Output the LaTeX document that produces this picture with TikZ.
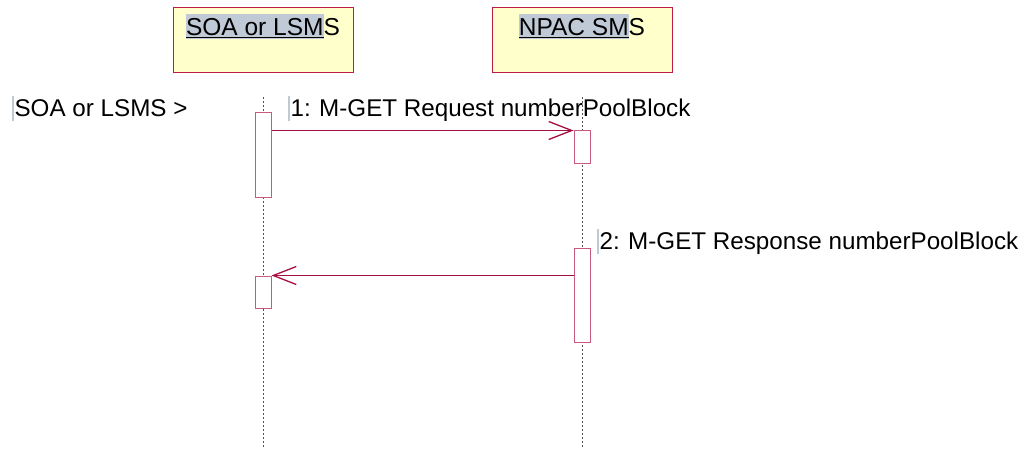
\documentclass[tikz,border=0pt]{standalone}
\usepackage{fontspec}
\setmainfont{Liberation Sans}
\usetikzlibrary{arrows.meta}
\definecolor{boxfill}{RGB}{255,255,204}
\definecolor{boxline}{RGB}{190,30,70}
\definecolor{msgline}{RGB}{165,15,65}
\definecolor{actline}{RGB}{200,90,130}
\definecolor{hlcol}{RGB}{192,202,214}
\definecolor{lifecol}{RGB}{80,80,80}
\newcommand{\curbar}{\textcolor{hlcol}{\rule[-4pt]{1.4pt}{25pt}}\hspace{1pt}}
\newcommand{\hltext}[1]{{\setlength{\fboxsep}{0pt}\colorbox{hlcol}{\rule[-3pt]{0pt}{25pt}\underline{#1}}}}
\tikzset{
  headbox/.style={draw=boxline, fill=boxfill, line width=1pt, minimum width=180pt, minimum height=65pt, inner sep=0pt},
  headtext/.style={anchor=base, inner sep=0pt, font=\fontsize{24.5}{28}\selectfont},
  actbox/.style={draw=actline, fill=white, line width=1pt, minimum width=16pt, inner sep=0pt},
  lifeline/.style={draw=lifecol, line width=0.8pt, dash pattern=on 2pt off 2pt},
  msg/.style={draw=msgline, line width=1.3pt, -{Straight Barb[length=23pt,width=18pt,line width=1.3pt]}},
  lbl/.style={anchor=base west, inner sep=0pt}
}
\begin{document}
\begin{tikzpicture}[x=1pt,y=-1pt,font=\fontsize{24.2}{28}\selectfont]
\useasboundingbox (0,0) rectangle (1023,449);
% header boxes
\node[headbox] (soa) at (263,40.5) {};
\node[headbox] (npac) at (582,40.5) {};
\node[headtext] (soat) at (263,36) {\hltext{SOA or LSM}S};
\node[headtext] (npact) at (582,36) {\hltext{NPAC SM}S};
% lifelines
\coordinate (l1top) at (263,97);
\coordinate (l1bot) at (263,449);
\coordinate (l2top) at (582,97);
\coordinate (l2bot) at (582,449);
\draw[lifeline] (l1top) -- (l1bot);
\draw[lifeline] (l2top) -- (l2bot);
% labels
\node[lbl] (actor) at (12,117) {\curbar SOA or LSMS >};
\node[lbl] (m1) at (288,117) {\curbar 1:\hspace{-0.5pt} M-GET Request numberPoolBlock};
\node[lbl] (m2) at (597,250) {\curbar 2:\hspace{-0.5pt} M-GET Response numberPoolBlock};
% activations
\node[actbox, minimum height=85pt] (aL1) at (263,155.5) {};
\node[actbox, minimum height=33pt] (aR1) at (582,147.5) {};
\node[actbox, minimum height=93pt] (aR2) at (582,295.5) {};
\node[actbox, minimum height=32pt] (aL2) at (263,292) {};
% messages
\draw[msg] (aL1.east |- aR1.north west) -- (aR1.north west);
\draw[msg] (aR2.west |- aL2.north east) -- (aL2.north east);
\end{tikzpicture}
\end{document}
